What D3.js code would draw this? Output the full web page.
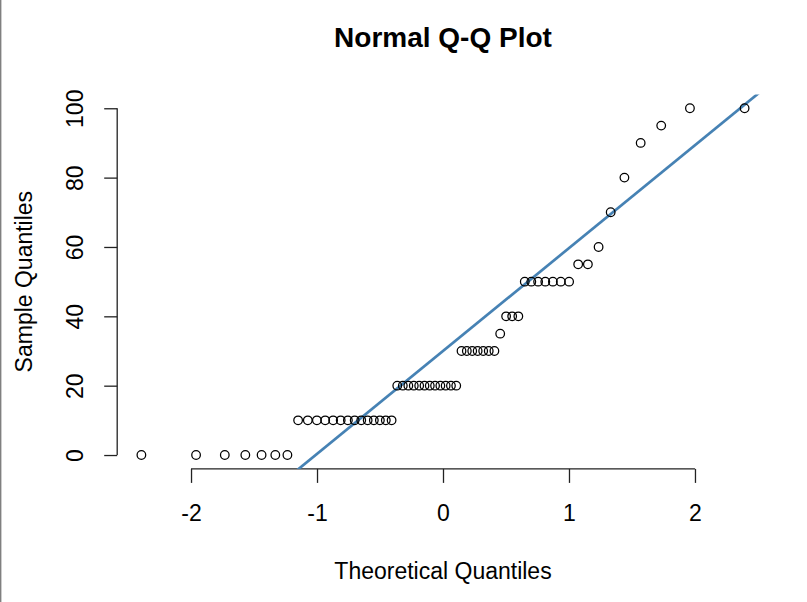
<!DOCTYPE html>
<html>
<head>
<meta charset="utf-8">
<script src="https://cdn.jsdelivr.net/npm/d3@7"></script>
<style>
  body { margin: 0; background: #fff; }
  text { font-family: "Liberation Sans", Arial, sans-serif; fill: #000; }
</style>
</head>
<body>
<div id="chart-area"></div>
<script>
// sample values (sorted)
var sampleValues = [
	0, 0, 0, 0, 0, 0, 0,
	10, 10, 10, 10, 10, 10, 10, 10, 10, 10, 10, 10, 10, 10,
	20, 20, 20, 20, 20, 20, 20, 20, 20, 20, 20, 20,
	30, 30, 30, 30, 30, 30, 30,
	35,
	40, 40, 40,
	50, 50, 50, 50, 50, 50, 50,
	55, 55,
	60, 70, 80, 90, 95,
	100, 100
];

// theoretical quantiles for each point
var theoretical = [
	-2.394, -1.960, -1.732, -1.569, -1.440, -1.331, -1.235, -1.150, -1.073, -1.001,
	-0.935, -0.872, -0.812, -0.755, -0.701, -0.649, -0.598, -0.549, -0.501, -0.454,
	-0.408, -0.363, -0.319, -0.275, -0.232, -0.189, -0.147, -0.105, -0.063, -0.021,
	0.021, 0.063, 0.105, 0.147, 0.189, 0.232, 0.275, 0.319, 0.363, 0.408,
	0.454, 0.501, 0.549, 0.598, 0.649, 0.701, 0.755, 0.812, 0.872, 0.935,
	1.001, 1.073, 1.150, 1.235, 1.331, 1.440, 1.569, 1.732, 1.960, 2.394
];

// qqline goes through the quartiles
var lineX = [-0.674, 0.674];
var lineY = [10, 50];

var xTicks = [-2, -1, 0, 1, 2];
var yTicks = [0, 20, 40, 60, 80, 100];

var W = 807, H = 602;
var plot = {left: 117.2, right: 768.8, top: 94.4, bottom: 468.9};

var svg = d3.select("#chart-area")
	.append("svg")
		.attr("width", W)
		.attr("height", H);

// window edge on the left
svg.append("line")
	.attr("x1", 0.7).attr("x2", 0.7)
	.attr("y1", 0).attr("y2", H)
	.attr("stroke", "#808080")
	.attr("stroke-width", 1.4);

var x = d3.scaleLinear()
	.domain([-2.586, 2.586])
	.range([plot.left, plot.right]);

var y = d3.scaleLinear()
	.domain([-4, 104])
	.range([plot.bottom, plot.top]);

svg.append("defs").append("clipPath")
	.attr("id", "plot-clip")
	.append("rect")
		.attr("x", plot.left)
		.attr("y", plot.top)
		.attr("width", plot.right - plot.left)
		.attr("height", plot.bottom - plot.top);

//x axis, R style
var xAxisCall = d3.axisBottom(x)
	.tickValues(xTicks)
	.tickSize(14)
	.tickSizeOuter(0)
	.tickPadding(0)
	.tickFormat(d3.format("d"));

var xAxis = svg.append("g")
	.attr("class", "x axis")
	.attr("transform", "translate(0," + plot.bottom + ")")
	.call(xAxisCall);
xAxis.select(".domain")
	.attr("d", "M" + x(xTicks[0]) + ",0H" + x(xTicks[xTicks.length - 1]));
xAxis.selectAll("text")
	.attr("y", 52)
	.attr("dy", null)
	.attr("font-size", "23px")
	.style("font-family", "'Liberation Sans', Arial, sans-serif")
	.text(function(d){ return d < 0 ? "-" + Math.abs(d) : d; });

//y axis
var yAxisCall = d3.axisLeft(y)
	.tickValues(yTicks)
	.tickSize(13)
	.tickSizeOuter(0)
	.tickPadding(0);

var yAxis = svg.append("g")
	.attr("class", "y axis")
	.attr("transform", "translate(" + plot.left + ",0)")
	.call(yAxisCall);
yAxis.select(".domain")
	.attr("d", "M0," + y(yTicks[0]) + "V" + y(yTicks[yTicks.length - 1]));
yAxis.selectAll(".tick text")
	.attr("x", null)
	.attr("dy", null)
	.attr("text-anchor", "middle")
	.attr("transform", "translate(-34,0) rotate(-90)")
	.attr("font-size", "23px")
	.style("font-family", "'Liberation Sans', Arial, sans-serif");

svg.selectAll(".axis path, .axis line")
	.attr("stroke", "#222")
	.attr("stroke-width", 1.3);

// qqline
var slope = (lineY[1] - lineY[0]) / (lineX[1] - lineX[0]);
var intercept = lineY[0] - slope * lineX[0];
var xd = x.domain();

svg.append("line")
	.attr("clip-path", "url(#plot-clip)")
	.attr("x1", x(xd[0]))
	.attr("y1", y(intercept + slope * xd[0]))
	.attr("x2", x(xd[1]))
	.attr("y2", y(intercept + slope * xd[1]))
	.attr("stroke", "steelblue")
	.attr("stroke-width", 2.7);

// points
svg.append("g")
	.selectAll("circle")
	.data(sampleValues)
	.enter()
	.append("circle")
		.attr("cx", function(d, i){ return x(theoretical[i]); })
		.attr("cy", function(d){ return y(d); })
		.attr("r", 4.3)
		.attr("fill", "none")
		.attr("stroke", "#000")
		.attr("stroke-width", 1.25);

// titles
svg.append("text")
	.attr("x", (plot.left + plot.right) / 2)
	.attr("y", 47)
	.attr("text-anchor", "middle")
	.attr("font-size", "28px")
	.attr("font-weight", "bold")
	.text("Normal Q-Q Plot");

svg.append("text")
	.attr("x", (plot.left + plot.right) / 2)
	.attr("y", 579)
	.attr("text-anchor", "middle")
	.attr("font-size", "23px")
	.text("Theoretical Quantiles");

svg.append("text")
	.attr("transform", "translate(32," + ((plot.top + plot.bottom) / 2) + ") rotate(-90)")
	.attr("text-anchor", "middle")
	.attr("font-size", "23px")
	.text("Sample Quantiles");
</script>
</body>
</html>
